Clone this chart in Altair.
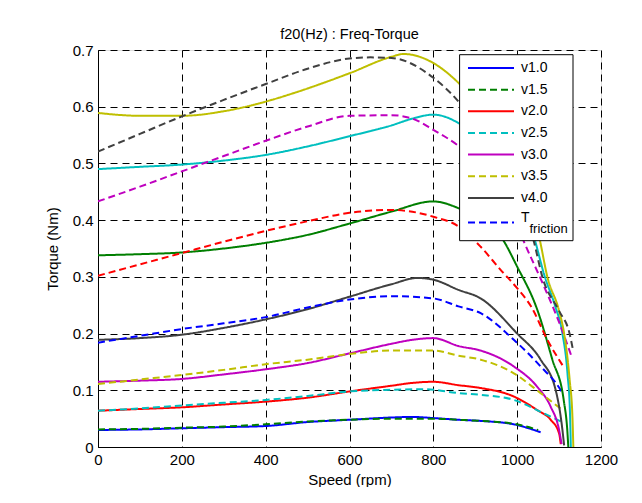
import altair as alt
import pandas as pd

FONT = "Liberation Sans"

series_names = ["v1.0", "v1.5", "v2.0", "v2.5", "v3.0", "v3.5", "v4.0", "T_friction",
                "v4.5", "v5.0", "v5.5", "v6.0", "v6.5", "v7.0"]
palette = ["#0000FF", "#007F00", "#FF0000", "#00BFBF", "#BF00BF", "#BFBF00", "#404040"]
colors = [palette[i % 7] for i in range(len(series_names))]
dashes = [[1, 0] if i % 2 == 0 else [7, 4] for i in range(len(series_names))]

speed_0 = [0, 100, 200, 300, 400, 500, 600, 700, 750, 800, 860, 913, 992, 1056]
torque_0 = [0.030, 0.031, 0.033, 0.035, 0.037, 0.044, 0.048, 0.052, 0.053, 0.051, 0.048, 0.046, 0.040, 0.026]

speed_1 = [0, 100, 200, 300, 400, 500, 600, 700, 750, 800, 860, 913, 992, 1050]
torque_1 = [0.031, 0.032, 0.034, 0.036, 0.040, 0.045, 0.048, 0.050, 0.050, 0.050, 0.048, 0.046, 0.041, 0.030]

speed_2 = [0, 100, 200, 300, 400, 500, 600, 700, 750, 800, 860, 913, 992, 1048, 1080, 1100, 1104]
torque_2 = [0.064, 0.067, 0.070, 0.075, 0.080, 0.087, 0.098, 0.108, 0.113, 0.115, 0.109, 0.104, 0.089, 0.065, 0.048, 0.024, 0.005]

speed_3 = [0, 100, 200, 300, 400, 500, 600, 700, 780, 860, 913, 992, 1056, 1104]
torque_3 = [0.064, 0.068, 0.073, 0.078, 0.083, 0.090, 0.098, 0.101, 0.102, 0.095, 0.092, 0.083, 0.062, 0.045]

speed_4 = [0, 100, 200, 300, 400, 500, 600, 700, 750, 800, 860, 913, 992, 1048, 1080, 1100, 1106]
torque_4 = [0.115, 0.117, 0.120, 0.128, 0.137, 0.148, 0.165, 0.182, 0.189, 0.192, 0.178, 0.170, 0.142, 0.106, 0.071, 0.030, 0.005]

speed_5 = [0, 100, 200, 300, 400, 500, 600, 700, 800, 860, 913, 992, 1056, 1108]
torque_5 = [0.111, 0.119, 0.127, 0.136, 0.146, 0.154, 0.164, 0.170, 0.170, 0.161, 0.154, 0.130, 0.095, 0.065]

speed_6 = [0, 100, 200, 300, 400, 500, 600, 700, 762, 800, 860, 913, 1000, 1056, 1092, 1108, 1112]
torque_6 = [0.189, 0.192, 0.198, 0.210, 0.225, 0.243, 0.265, 0.287, 0.298, 0.295, 0.277, 0.262, 0.200, 0.154, 0.100, 0.030, 0.003]

speed_7 = [0, 100, 200, 300, 400, 500, 600, 700, 800, 860, 913, 992, 1056, 1104, 1110]
torque_7 = [0.184, 0.196, 0.208, 0.218, 0.229, 0.246, 0.260, 0.266, 0.262, 0.248, 0.236, 0.189, 0.142, 0.100, 0.092]

speed_8 = [0, 100, 200, 300, 400, 500, 600, 700, 800, 860, 913, 961, 1000, 1048, 1084, 1111, 1120, 1122]
torque_8 = [0.338, 0.340, 0.343, 0.350, 0.360, 0.374, 0.394, 0.415, 0.433, 0.421, 0.400, 0.371, 0.318, 0.242, 0.154, 0.083, 0.025, 0.0]

speed_9 = [0, 100, 200, 300, 400, 500, 600, 700, 800, 860, 913, 961, 1000, 1033, 1072, 1110]
torque_9 = [0.302, 0.322, 0.342, 0.362, 0.381, 0.398, 0.413, 0.418, 0.406, 0.389, 0.353, 0.312, 0.280, 0.248, 0.189, 0.142]

speed_10 = [0, 100, 200, 300, 400, 500, 600, 700, 750, 800, 860, 900, 950, 1000, 1040, 1066, 1090, 1108, 1120, 1126, 1128]
torque_10 = [0.490, 0.494, 0.498, 0.505, 0.515, 0.530, 0.548, 0.567, 0.579, 0.586, 0.571, 0.548, 0.505, 0.440, 0.370, 0.300, 0.250, 0.200, 0.130, 0.060, 0.0]

speed_11 = [0, 100, 200, 300, 400, 500, 600, 700, 750, 800, 860, 900, 950, 1000, 1016, 1060, 1100, 1130]
torque_11 = [0.433, 0.459, 0.486, 0.513, 0.540, 0.565, 0.584, 0.585, 0.579, 0.559, 0.531, 0.505, 0.460, 0.390, 0.362, 0.290, 0.220, 0.159]

speed_12 = [0, 100, 200, 300, 400, 471, 600, 700, 729, 800, 860, 900, 950, 1000, 1054, 1072, 1100, 1112, 1125, 1132, 1134]
torque_12 = [0.589, 0.584, 0.584, 0.592, 0.609, 0.625, 0.659, 0.688, 0.693, 0.677, 0.642, 0.610, 0.560, 0.490, 0.365, 0.300, 0.240, 0.200, 0.120, 0.050, 0.0]

speed_13 = [0, 100, 200, 300, 400, 500, 600, 650, 700, 800, 860, 900, 950, 1000, 1040, 1060, 1100, 1125, 1134]
torque_13 = [0.521, 0.552, 0.583, 0.612, 0.640, 0.667, 0.685, 0.687, 0.686, 0.651, 0.609, 0.570, 0.520, 0.450, 0.362, 0.300, 0.240, 0.200, 0.168]

speeds = [speed_0, speed_1, speed_2, speed_3, speed_4, speed_5, speed_6,
          speed_7, speed_8, speed_9, speed_10, speed_11, speed_12, speed_13]
torques = [torque_0, torque_1, torque_2, torque_3, torque_4, torque_5, torque_6,
           torque_7, torque_8, torque_9, torque_10, torque_11, torque_12, torque_13]

x_ticks = [0, 200, 400, 600, 800, 1000, 1200]
y_ticks = [0, 0.1, 0.2, 0.3, 0.4, 0.5, 0.6, 0.7]

legend_series = series_names[:8]
legend_main = ["v1.0", "v1.5", "v2.0", "v2.5", "v3.0", "v3.5", "v4.0", "T"]
legend_sub = ["", "", "", "", "", "", "", "friction"]

rows = []
for i, (name, s, t) in enumerate(zip(series_names, speeds, torques)):
    for k, (a, b) in enumerate(zip(s, t)):
        rows.append({"series": name, "speed": a, "torque": b, "k": k, "idx": i})
df = pd.DataFrame(rows)

legdf = pd.DataFrame({"series": legend_series, "label": legend_main,
                      "sub": legend_sub, "idx": list(range(8))})

color_scale = alt.Scale(domain=series_names, range=colors)
dash_scale = alt.Scale(domain=series_names, range=dashes)

axis_common = dict(
    grid=True, gridColor="black", gridDash=[7, 5], gridWidth=1, gridOpacity=1,
    domainColor="black", tickSize=0, labelFont=FONT, labelFontSize=15,
    labelColor="black", titleFont=FONT, titleFontSize=15, titleColor="black",
    titleFontWeight="normal",
)

lines = alt.Chart(df).mark_line(strokeWidth=2, interpolate="monotone", clip=True).encode(
    x=alt.X("speed:Q", scale=alt.Scale(domain=[0, 1200], nice=False),
            axis=alt.Axis(values=x_ticks, format="d", title="Speed (rpm)", labelPadding=5,
                          titlePadding=5, labelFlush=False, **axis_common)),
    y=alt.Y("torque:Q", scale=alt.Scale(domain=[0, 0.7], nice=False),
            axis=alt.Axis(values=y_ticks, format=".1~f", title="Torque (Nm)",
                          labelPadding=5, titlePadding=12, labelFlush=False, **axis_common)),
    color=alt.Color("series:N", scale=color_scale, legend=None),
    strokeDash=alt.StrokeDash("series:N", scale=dash_scale, legend=None),
    detail="idx:N",
    order="k:Q",
)

base_leg = alt.Chart(legdf).transform_calculate(
    ly="18 + datum.idx * 21.65 + (datum.idx == 7 ? 3 : 0)"
).transform_calculate(
    ty="datum.ly - (datum.idx == 7 ? 5 : 0)",
    sy="datum.ly + 6",
)

box = alt.Chart(legdf).mark_rect(fill="white", stroke="black", strokeWidth=1).encode(
    x=alt.value(361.6), x2=alt.value(475), y=alt.value(4.7), y2=alt.value(190.7)
).transform_filter("datum.idx == 0")

leg_lines = base_leg.mark_rule(strokeWidth=2).encode(
    x=alt.value(370), x2=alt.value(416),
    y=alt.Y("ly:Q", scale=None, axis=None),
    color=alt.Color("series:N", scale=color_scale, legend=None),
    strokeDash=alt.StrokeDash("series:N", scale=dash_scale, legend=None),
)

leg_text = base_leg.mark_text(align="left", baseline="middle", font=FONT,
                              fontSize=14, color="black").encode(
    x=alt.value(423),
    y=alt.Y("ty:Q", scale=None, axis=None),
    text="label:N",
)

leg_sub = base_leg.mark_text(align="left", baseline="middle", font=FONT,
                             fontSize=13, color="black").encode(
    x=alt.value(431.5),
    y=alt.Y("sy:Q", scale=None, axis=None),
    text="sub:N",
).transform_filter("datum.idx == 7")

legend = alt.layer(box, leg_lines, leg_text, leg_sub)

chart = alt.layer(lines, legend).resolve_scale(x="independent", y="independent").properties(
    width=503, height=397,
    title=alt.TitleParams("f20(Hz) : Freq-Torque", font=FONT, fontSize=14.5,
                          fontWeight="normal", color="black", offset=1, anchor="middle"),
    autosize=alt.AutoSizeParams(type="none"),
    padding={"left": 90, "top": 42, "right": 30, "bottom": 40},
).configure_view(stroke="black", strokeWidth=1).configure(background="white")

chart.save("out.html", embed_options={"renderer": "svg", "actions": False})
